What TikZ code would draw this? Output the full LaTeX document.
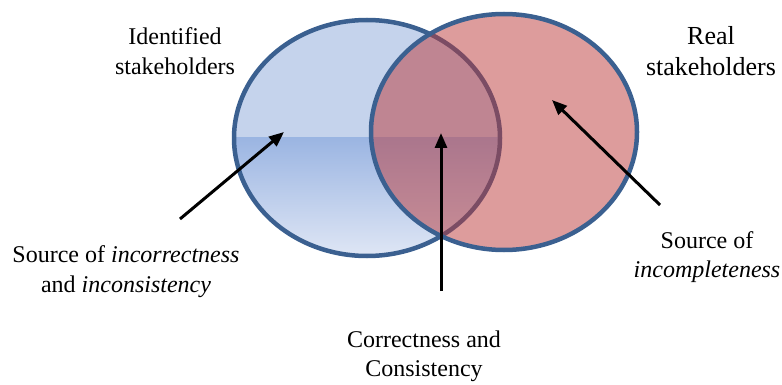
\documentclass[tikz,border=0pt]{standalone}
\usepackage{fontspec}
\setmainfont{Liberation Serif}
\usetikzlibrary{arrows.meta}
\definecolor{rimblue}{RGB}{59,96,144}
\definecolor{flatblue}{RGB}{197,211,236}
\definecolor{gradtop}{RGB}{155,181,226}
\definecolor{gradbot}{RGB}{224,231,245}
\definecolor{pinkbase}{RGB}{187,57,57}
\tikzset{
  rim/.style={draw=rimblue,line width=4.5pt},
  pointer/.style={draw=black,line width=3pt,-{Triangle[length=15pt,width=12pt]}},
  lbl/.style={align=center,inner sep=0pt,font=\fontsize{24}{30}\selectfont},
}
\begin{document}
\begin{tikzpicture}[x=1pt,y=-1pt]
\useasboundingbox (0,0) rectangle (782,385);
% left ellipse (identified)
\fill[flatblue] (367,138) ellipse [x radius=133pt, y radius=118pt];
\begin{scope}
  \clip (367,138) ellipse [x radius=133pt, y radius=118pt];
  \shade[top color=gradtop,bottom color=gradbot] (230,138) rectangle (505,258);
\end{scope}
\draw[rim] (367,138) ellipse [x radius=133pt, y radius=118pt];
% right ellipse (real)
\fill[pinkbase,fill opacity=0.5] (504,132) ellipse [x radius=133pt, y radius=118pt];
\draw[rim] (504,132) ellipse [x radius=133pt, y radius=118pt];
% labels
\node[lbl] (ident) at (175,51) {Identified\\stakeholders};
\node[lbl,font=\fontsize{26}{31}\selectfont] (real) at (711,51) {Real\\stakeholders};
\node[lbl] (incorr) at (126,272) {Source of \textit{incorrectness}\\and \textit{inconsistency}};
\node[lbl,font=\fontsize{24}{29}\selectfont] (corr) at (424,356) {Correctness and\\Consistency};
\node[lbl,font=\fontsize{24}{29}\selectfont] (incomp) at (707,257) {Source of\\\textit{incompleteness}};
% arrows
\coordinate (lt) at (180,219);
\coordinate (lh) at (284,132);
\coordinate (mt) at (441,291);
\coordinate (mh) at (441,133);
\coordinate (rt) at (660,205);
\coordinate (rh) at (552,100);
\draw[pointer] (lt) -- (lh);
\draw[pointer] (mt) -- (mh);
\draw[pointer] (rt) -- (rh);
\end{tikzpicture}
\end{document}
